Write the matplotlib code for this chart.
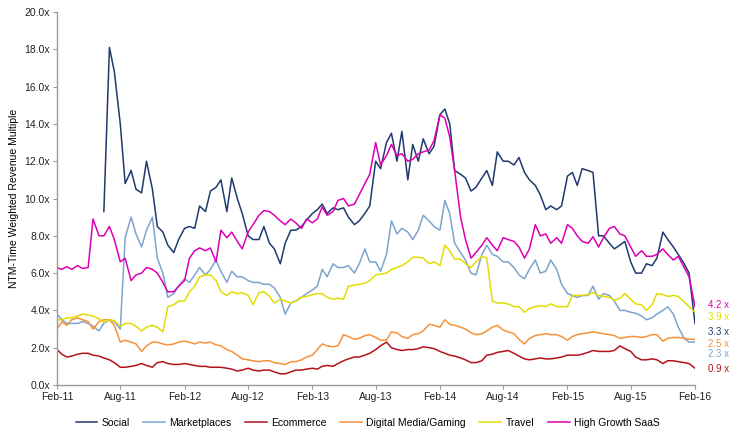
import numpy as np
import pandas as pd
import matplotlib
matplotlib.use("Agg")
import matplotlib.pyplot as plt
import matplotlib.dates as mdates

plt.rcParams['font.family'] = ['Liberation Sans', 'DejaVu Sans']

# semi-monthly observations, Feb-2011 .. Feb-2016
dates = pd.date_range('2011-02-01', '2016-02-01', freq='SMS')

nan = np.nan
social = [
    nan, nan, nan, nan, nan, nan, nan, nan, nan, 9.3,
    18.1, 16.8, 14.0, 10.8, 11.5, 10.5, 10.3, 12.0, 10.5, 8.5,
    8.2, 7.5, 7.1, 7.8, 8.4, 8.5, 8.4, 9.6, 9.3, 10.4,
    10.6, 11.0, 9.3, 11.1, 10.0, 9.2, 8.0, 7.8, 7.8, 8.5,
    7.6, 7.3, 6.5, 7.6, 8.3, 8.3, 8.5, 8.85, 9.2, 9.4,
    9.7, 9.2, 9.5, 9.4, 9.5, 9.0, 8.6, 8.8, 9.2, 9.6,
    12.0, 11.6, 13.0, 13.5, 12.0, 13.6, 11.0, 12.9, 12.0, 13.2,
    12.4, 12.8, 14.5, 14.8, 14.0, 11.5, 11.3, 11.1, 10.4, 10.6,
    11.1, 11.5, 10.7, 12.5, 12.0, 12.0, 11.8, 12.2, 11.4, 11.0,
    10.7, 10.2, 9.4, 9.6, 9.4, 9.6, 11.2, 11.4, 10.7, 11.6,
    11.5, 11.4, 8.0, 8.0, 7.6, 7.3, 7.5, 7.7, 6.6, 6.0,
    6.0, 6.5, 6.4, 6.8, 8.2, 7.8, 7.4, 7.0, 6.5, 6.0,
    3.3,
]
marketplaces = [
    3.8, 3.5, 3.3, 3.3, 3.3, 3.4, 3.3, 3.15, 2.9, 3.3,
    3.5, 3.4, 3.0, 7.9, 9.0, 8.1, 7.4, 8.3, 9.0, 6.8,
    6.0, 4.7, 4.9, 5.3, 5.7, 5.5, 5.9, 6.3, 5.9, 6.2,
    6.7, 6.1, 5.5, 6.1, 5.8, 5.8, 5.6, 5.5, 5.5, 5.4,
    5.4, 5.2, 4.7, 3.8, 4.4, 4.5, 4.7, 4.9, 5.1, 5.3,
    6.2, 5.8, 6.5, 6.3, 6.3, 6.4, 6.0, 6.5, 7.3, 6.6,
    6.6, 6.1, 7.0, 8.8, 8.1, 8.4, 8.2, 7.8, 8.3, 9.1,
    8.8, 8.5, 8.3, 9.9, 9.2, 7.6, 7.1, 6.7, 6.0, 5.9,
    7.0, 7.5, 7.0, 6.9, 6.6, 6.6, 6.3, 5.9, 5.7, 6.2,
    6.7, 6.0, 6.1, 6.7, 6.2, 5.4, 4.9, 4.8, 4.7, 4.8,
    4.8, 5.3, 4.6, 4.9, 4.8, 4.5, 4.0, 4.0, 3.9, 3.85,
    3.7, 3.5, 3.6, 3.8, 4.0, 4.2, 3.8, 3.1, 2.5, 2.3,
    2.3,
]
ecommerce = [
    1.9, 1.65, 1.5, 1.55, 1.65, 1.7, 1.7, 1.6, 1.55, 1.45,
    1.35, 1.2, 0.95, 0.95, 1.0, 1.05, 1.15, 1.05, 0.95, 1.2,
    1.25, 1.15, 1.1, 1.1, 1.15, 1.1, 1.05, 1.0, 1.0, 0.95,
    0.95, 0.95, 0.9, 0.85, 0.75, 0.8, 0.9, 0.8, 0.75, 0.8,
    0.8, 0.7, 0.6, 0.6, 0.7, 0.8, 0.8, 0.85, 0.9, 0.85,
    1.0, 1.05, 1.0, 1.15, 1.3, 1.4, 1.5, 1.5, 1.6, 1.7,
    1.9, 2.1, 2.3, 2.0, 1.9, 1.85, 1.9, 1.9, 1.95, 2.05,
    2.0, 1.95, 1.8, 1.7, 1.6, 1.55, 1.45, 1.35, 1.2, 1.2,
    1.3, 1.6, 1.65, 1.75, 1.8, 1.85, 1.7, 1.55, 1.4, 1.35,
    1.4, 1.45, 1.4, 1.4, 1.45, 1.5, 1.6, 1.6, 1.6, 1.65,
    1.75, 1.85, 1.8, 1.8, 1.8, 1.85, 2.1, 1.95, 1.8, 1.5,
    1.35, 1.35, 1.4, 1.35, 1.15, 1.3, 1.3, 1.25, 1.2, 1.15,
    0.9,
]
digital_media = [
    3.0, 3.4, 3.2, 3.5, 3.6, 3.5, 3.4, 3.0, 3.4, 3.5,
    3.5, 3.2, 2.3, 2.4, 2.3, 2.2, 1.8, 2.1, 2.3, 2.3,
    2.2, 2.15, 2.2, 2.3, 2.35, 2.3, 2.2, 2.3, 2.25, 2.3,
    2.15, 2.1, 1.9, 1.8, 1.6, 1.4, 1.35, 1.3, 1.25, 1.3,
    1.3, 1.2, 1.15, 1.1, 1.25, 1.25, 1.35, 1.5, 1.6, 1.9,
    2.2, 2.1, 2.05, 2.1, 2.7, 2.6, 2.45, 2.5, 2.65, 2.7,
    2.55, 2.4, 2.4, 2.85, 2.8, 2.6, 2.5, 2.7, 2.75, 2.9,
    3.25, 3.2, 3.1, 3.5, 3.25, 3.2, 3.1, 3.0, 2.8, 2.7,
    2.75, 2.9, 3.1, 3.2, 2.95, 2.85, 2.75, 2.45, 2.2, 2.5,
    2.65, 2.7, 2.75, 2.7, 2.7, 2.6, 2.4, 2.6, 2.7, 2.75,
    2.8, 2.85, 2.8, 2.75, 2.7, 2.65, 2.5, 2.55, 2.6, 2.6,
    2.55, 2.6, 2.7, 2.7, 2.35, 2.5, 2.55, 2.55, 2.5, 2.45,
    2.45,
]
travel = [
    3.5, 3.5, 3.6, 3.6, 3.7, 3.8, 3.75, 3.7, 3.55, 3.35,
    3.5, 3.45, 3.15, 3.3, 3.3, 3.15, 2.9, 3.1, 3.2, 3.1,
    2.85, 4.2, 4.3, 4.5, 4.5, 5.0, 5.3, 5.8, 5.9, 5.9,
    5.6, 5.0, 4.8, 5.0, 4.9, 4.95, 4.8, 4.3, 4.95, 5.0,
    4.75, 4.4, 4.6, 4.5, 4.4, 4.5, 4.7, 4.75, 4.85, 4.9,
    4.9, 4.7, 4.6, 4.65, 4.6, 5.3, 5.35, 5.4, 5.45, 5.6,
    5.9, 5.95, 6.0, 6.2, 6.3, 6.4, 6.6, 6.85, 6.85, 6.8,
    6.5, 6.6, 6.4, 7.5, 7.2, 6.75, 6.75, 6.5, 6.3, 6.6,
    6.9, 6.8, 4.5, 4.4, 4.4, 4.35, 4.2, 4.2, 3.9, 4.1,
    4.2, 4.25, 4.2, 4.35, 4.2, 4.2, 4.2, 4.8, 4.8, 4.8,
    4.85, 4.95, 4.8, 4.75, 4.7, 4.55, 4.65, 4.9, 4.6, 4.35,
    4.3, 4.0, 4.3, 4.9, 4.85, 4.75, 4.8, 4.75, 4.45, 4.2,
    3.9,
]
saas = [
    6.3, 6.2, 6.35, 6.2, 6.4, 6.25, 6.3, 8.9, 8.0, 8.0,
    8.5, 7.8, 6.6, 6.8, 5.6, 5.9, 6.0, 6.3, 6.2, 6.0,
    5.5, 5.0, 5.0, 5.3, 5.6, 6.8, 7.2, 7.35, 7.2, 7.35,
    6.6, 8.3, 7.9, 8.2, 7.7, 7.3, 8.2, 8.6, 9.1, 9.35,
    9.3, 9.1, 8.8, 8.6, 8.9, 8.7, 8.4, 8.9, 8.7, 8.9,
    9.55, 9.1, 9.3, 9.9, 10.0, 9.6, 9.7, 10.2, 10.8, 11.3,
    13.0, 11.8, 12.3, 12.9, 12.3, 12.4, 12.0, 12.1, 12.4, 12.5,
    12.6, 13.1, 14.5, 14.3, 13.3, 11.5, 9.0, 7.8, 6.8, 7.1,
    7.5, 7.9, 7.5, 7.2, 7.9, 7.8, 7.7, 7.4, 6.8, 7.3,
    8.6, 8.0, 8.1, 7.6, 7.9, 7.6, 8.6, 8.4, 8.0, 7.7,
    7.6, 7.95, 7.4, 7.9, 8.4, 8.5, 8.1, 8.0, 7.4, 6.9,
    7.2, 6.9, 6.9, 7.0, 7.3, 7.0, 6.7, 6.9, 6.3, 5.8,
    4.2,
]

names = ['Social', 'Marketplaces', 'Ecommerce', 'Digital Media/Gaming',
         'Travel', 'High Growth SaaS']
series = [social, marketplaces, ecommerce, digital_media, travel, saas]
colors = ['#1f3a6e', '#7ea3cd', '#b3121b', '#f7923a', '#e2dd00', '#dc00b4']

# end-of-series labels, stacked so they do not overlap (data units)
label_order = [5, 4, 0, 3, 1, 2]
label_y = [4.3, 3.66, 2.86, 2.2, 1.66, 0.86]

fig = plt.figure(figsize=(7.35, 4.37), dpi=100)
ax = fig.add_axes([0.0776, 0.119, 0.868, 0.8535])

for name, vals, c in zip(names, series, colors):
    ax.plot(dates, vals, color=c, lw=1.1, label=name)

for k, yy in zip(label_order, label_y):
    last = series[k][-1]
    ax.annotate(f"{last:.1f} x", xy=(1.0, yy), xycoords=('axes fraction', 'data'),
                xytext=(9, 0), textcoords='offset points', va='center',
                ha='left', color=colors[k], fontsize=7)

ax.set_xlim(pd.Timestamp('2011-02-01'), pd.Timestamp('2016-02-01'))
ax.set_ylim(0, 20)
ax.set_yticks(np.arange(0, 20.1, 2))
ax.yaxis.set_major_formatter(plt.FuncFormatter(lambda v, p: f"{v:.1f}x"))
ax.xaxis.set_major_locator(mdates.MonthLocator(bymonth=[2, 8]))
ax.xaxis.set_major_formatter(mdates.DateFormatter('%b-%y'))

for side in ['top', 'right']:
    ax.spines[side].set_visible(False)
for side in ['left', 'bottom']:
    ax.spines[side].set_color('#9a9a9a')
    ax.spines[side].set_linewidth(1.0)
ax.tick_params(axis='both', direction='out', length=3, color='#9a9a9a',
               labelsize=7.5, labelcolor='#222222', pad=2)

ax.set_ylabel('NTM-Time Weighted Revenue Multiple', fontsize=7.5, labelpad=4)

fig.legend(loc='lower center', bbox_to_anchor=(0.5, 0.0), ncol=6, frameon=False,
           fontsize=7.5, handlelength=2.1, columnspacing=1.3, handletextpad=0.4)

fig.savefig('out.png', dpi=100)
